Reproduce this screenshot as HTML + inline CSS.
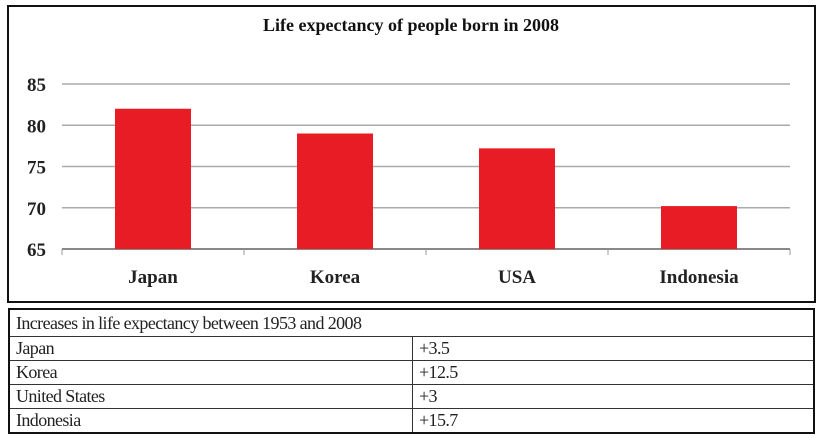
<!DOCTYPE html>
<html><head><meta charset="utf-8">
<style>
body{margin:0;width:823px;height:448px;background:#fff;overflow:hidden;font-family:"Liberation Serif",serif}
svg{position:absolute;left:0;top:0}
table{position:absolute;left:8px;top:308px;width:807px;border-collapse:collapse;border:2px solid #111;font-size:18px;color:#222}
td{border:1px solid #333;padding:0 0 0 6px;height:23px;line-height:23px;letter-spacing:-0.6px}
</style></head><body>
<svg id="chart" width="823" height="305" viewBox="0 0 823 305"></svg>
<table>
<tr><td colspan="2" style="height:26px">Increases in life expectancy between 1953 and 2008</td></tr>
<tr><td style="width:396px">Japan</td><td>+3.5</td></tr>
<tr><td>Korea</td><td>+12.5</td></tr>
<tr><td>United States</td><td>+3</td></tr>
<tr><td>Indonesia</td><td>+15.7</td></tr>
</table>
<script>
const categories=["Japan","Korea","USA","Indonesia"];
const values=[82,79,77.2,70.2];
const ticks=[65,70,75,80,85];
const NS="http://www.w3.org/2000/svg";
const svg=document.getElementById('chart');
const L=62,R=790,T=84,B=249,yMin=65,yMax=85;
const y=v=>B-(v-yMin)/(yMax-yMin)*(B-T);
const step=(R-L)/categories.length;
const xc=i=>L+step*(i+0.5);
function mk(tag,attrs,text){const e=document.createElementNS(NS,tag);for(const k in attrs)e.setAttribute(k,attrs[k]);if(text!=null)e.textContent=text;svg.appendChild(e);return e;}
let e=mk('rect',{x:8,y:6,width:807,height:296,fill:'none',stroke:'#111','stroke-width':2});


e=mk('text',{x:411,y:31,'text-anchor':'middle','font-weight':'bold','font-size':18,fill:'#111'},'Life expectancy of people born in 2008');


ticks.forEach(t=>{
  const g=mk('line',{x1:L,x2:R,y1:y(t),y2:y(t),stroke:t===yMin?'#888':'#aaa','stroke-width':t===yMin?2:1.5});
  
  
  const l=mk('text',{x:46,y:y(t)+7,'text-anchor':'end','font-weight':'bold','font-size':19,fill:'#222'},t);
  
  
});
for(let i=0;i<=categories.length;i++){
  const tk=mk('line',{x1:L+step*i,x2:L+step*i,y1:B,y2:B+6,stroke:'#999','stroke-width':1});
  
  
}
categories.forEach((c,i)=>{
  const w=76;
  const b=mk('rect',{x:xc(i)-w/2,y:y(values[i]),width:w,height:B-y(values[i]),fill:'#e81c24'});
  
  
  const l=mk('text',{x:xc(i),y:283,'text-anchor':'middle','font-weight':'bold','font-size':19,fill:'#222'},c);
  
  
});
</script>
</body></html>
